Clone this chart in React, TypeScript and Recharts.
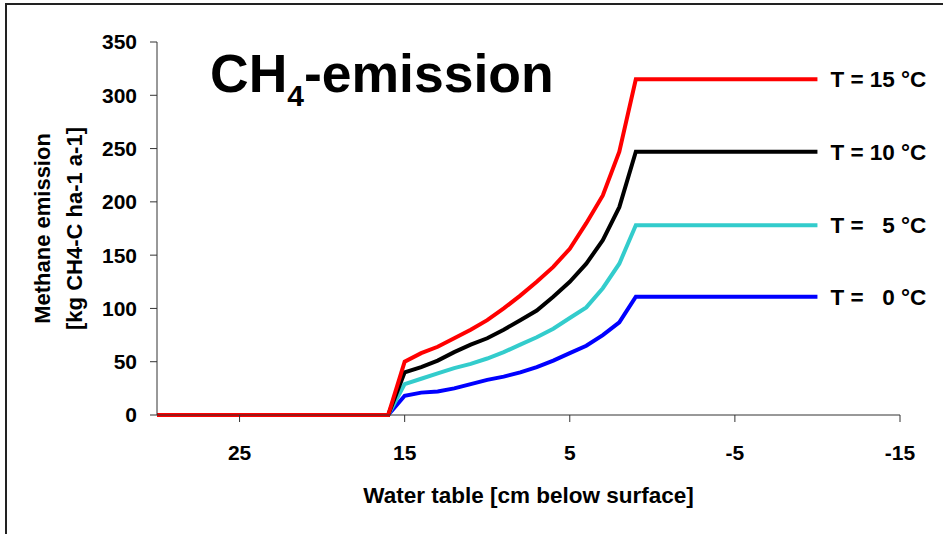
import React from "react";
import { LineChart, Line, XAxis, YAxis, Label } from "recharts";

// water table depth (cm below surface) shared by all curves
const waterTable = [30, 16, 15, 14, 13, 12, 11, 10, 9, 8, 7, 6, 5, 4, 3, 2, 1, -10];

// methane emission, kg CH4-C ha-1 a-1, per soil temperature
const emissionT15 = [0, 0, 50, 58, 64, 72, 80, 89, 100, 112, 125, 139, 156, 180, 206, 247, 315, 315];
const emissionT10 = [0, 0, 40, 45, 51, 59, 66, 72, 80, 89, 98, 111, 125, 142, 164, 195, 247, 247];
const emissionT5 = [0, 0, 29, 34, 39, 44, 48, 53, 59, 66, 73, 81, 91, 101, 119, 142, 178, 178];
const emissionT0 = [0, 0, 18, 21, 22, 25, 29, 33, 36, 40, 45, 51, 58, 65, 75, 87, 111, 111];

const xTicks = [25, 15, 5, -5, -15];
const yTicks = [0, 50, 100, 150, 200, 250, 300, 350];

const series = [
  { key: "t0", name: "T =   0 °C", color: "#0000FF", values: emissionT0 },
  { key: "t5", name: "T =   5 °C", color: "#33CCCC", values: emissionT5 },
  { key: "t10", name: "T = 10 °C", color: "#000000", values: emissionT10 },
  { key: "t15", name: "T = 15 °C", color: "#FF0000", values: emissionT15 },
];

const rows = waterTable.map((depth, i) => {
  const row: Record<string, number> = { depth };
  series.forEach((s) => {
    row[s.key] = s.values[i];
  });
  return row;
});

const FONT = "'Liberation Sans', Arial, sans-serif";
const AXIS = "#333333";

function endLabel(text: string) {
  return (props: any) => {
    if (props.index !== waterTable.length - 1) return null;
    return (
      <text
        key={text}
        x={props.x + 13}
        y={props.y}
        dy="0.36em"
        fontFamily={FONT}
        fontWeight="bold"
        fontSize={22.5}
        fill="#000"
        style={{ whiteSpace: "pre" }}
      >
        {text}
      </text>
    );
  };
}

export default function App() {
  return (
    <div style={{ position: "absolute", left: 0, top: 0, width: 943, height: 534, background: "#fff" }}>
      <div
        style={{
          position: "absolute",
          left: 5,
          top: 3,
          right: 0,
          bottom: 0,
          borderLeft: "2px solid #222",
          borderTop: "2px solid #222",
        }}
      />
      <LineChart
        width={943}
        height={534}
        data={rows}
        margin={{ top: 42, right: 43, bottom: 0, left: 97 }}
        style={{ position: "absolute", left: 0, top: 0 }}
      >
        <XAxis
          dataKey="depth"
          type="number"
          domain={[-15, 30]}
          reversed
          ticks={xTicks}
          interval={0}
          stroke={AXIS}
          tickSize={7}
          tickMargin={23}
          tick={{ fill: "#000", fontFamily: FONT, fontWeight: "bold", fontSize: 21 }}
          height={119}
        >
          <Label
            value="Water table [cm below surface]"
            position="insideTop"
            offset={72}
            fill="#000"
            fontFamily={FONT}
            fontWeight="bold"
            fontSize={22.5}
          />
        </XAxis>
        <YAxis
          type="number"
          domain={[0, 350]}
          ticks={yTicks}
          interval={0}
          stroke={AXIS}
          tickSize={7}
          tickMargin={13}
          width={60}
          tick={{ fill: "#000", fontFamily: FONT, fontWeight: "bold", fontSize: 21 }}
        >
          <Label
            content={(props: any) => {
              const vb = props.viewBox || { x: 97, y: 42, height: 373 };
              const cy = vb.y + vb.height / 2;
              const x1 = vb.x - 55;
              const x2 = vb.x - 23;
              return (
                <g fontFamily={FONT} fontWeight="bold" fontSize={22} fill="#000">
                  <text x={x1} y={cy} textAnchor="middle" dy="0.36em" transform={`rotate(-90 ${x1} ${cy})`}>
                    Methane emission
                  </text>
                  <text x={x2} y={cy} textAnchor="middle" dy="0.36em" transform={`rotate(-90 ${x2} ${cy})`}>
                    [kg CH4-C ha-1 a-1]
                  </text>
                </g>
              );
            }}
          />
        </YAxis>
        {series.map((s) => (
          <Line
            key={s.key}
            dataKey={s.key}
            type="linear"
            stroke={s.color}
            strokeWidth={4}
            dot={false}
            activeDot={false}
            isAnimationActive={false}
            label={endLabel(s.name)}
          />
        ))}
        <text x={210} y={92} fontFamily={FONT} fontWeight="bold" fontSize={53.5} fill="#000">
          CH
          <tspan fontSize={30} dy={14}>4</tspan>
          <tspan dy={-14}>-emission</tspan>
        </text>
      </LineChart>
    </div>
  );
}
